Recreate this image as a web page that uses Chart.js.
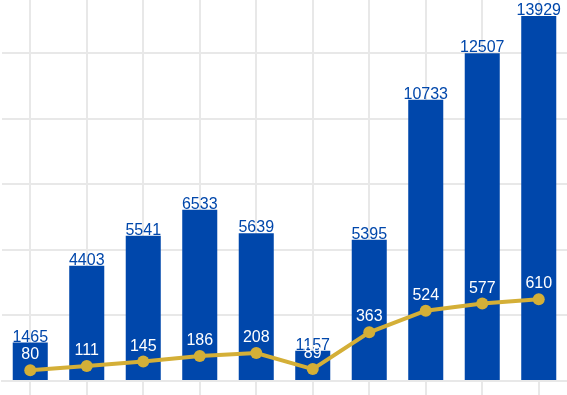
<!DOCTYPE html>
<html>
<head>
<meta charset="utf-8">
<script src="https://cdn.jsdelivr.net/npm/chart.js@4"></script>
<style>
  html, body { margin: 0; padding: 0; background: #fff; }
  #wrap { width: 567px; height: 395px; }
</style>
</head>
<body>
<div id="wrap"><canvas id="myChart"></canvas></div>
<script>
// Datos de la gráfica
const categorias = ['1', '2', '3', '4', '5', '6', '7', '8', '9', '10'];
const barras = [1465, 4403, 5541, 6533, 5639, 1157, 5395, 10733, 12507, 13929];
const linea = [80, 111, 145, 186, 208, 89, 363, 524, 577, 610];
const marcasY = [0, 2500, 5000, 7500, 10000, 12500];

const azul = '#0047AB';
const dorado = '#D4AF37';
const gris = '#e8e8e8';

// Plugin sencillo para pintar las etiquetas de valores
const etiquetas = {
    id: 'etiquetas',
    afterDatasetsDraw(chart) {
        const ctx = chart.ctx;
        ctx.save();
        ctx.textAlign = 'center';
        ctx.textBaseline = 'alphabetic';

        // Etiquetas de las barras (encima de cada barra)
        ctx.font = '16px "Liberation Sans", Arial, sans-serif';
        ctx.fillStyle = azul;
        chart.getDatasetMeta(0).data.forEach((bar, i) => {
            ctx.fillText(barras[i], bar.x, bar.y - 1);
        });

        // Etiquetas de la línea (blancas, arriba del punto)
        ctx.fillStyle = '#fff';
        chart.getDatasetMeta(1).data.forEach((pt, i) => {
            ctx.fillText(linea[i], pt.x, pt.y - 11);
        });
        ctx.restore();
    }
};

const ctx = document.getElementById('myChart').getContext('2d');
const myChart = new Chart(ctx, {
    data: {
        labels: categorias,
        datasets: [{
            type: 'bar',
            data: barras,
            backgroundColor: azul,
            barPercentage: 0.62,
            categoryPercentage: 1,
            yAxisID: 'y',
            order: 2
        }, {
            type: 'line',
            data: linea,
            borderColor: dorado,
            backgroundColor: dorado,
            borderWidth: 4,
            pointRadius: 6,
            pointBackgroundColor: dorado,
            pointBorderWidth: 0,
            tension: 0,
            yAxisID: 'y2',
            order: 1
        }]
    },
    options: {
        responsive: true,
        maintainAspectRatio: false,
        animation: false,
        layout: { autoPadding: false, padding: { left: 2, right: 0, top: 0, bottom: 0 } },
        plugins: {
            legend: { display: false },
            tooltip: { enabled: false }
        },
        scales: {
            x: {
                grid: { offset: false, color: gris, lineWidth: 2, tickLength: 14 },
                border: { color: gris, width: 2 },
                ticks: { display: false }
            },
            y: {
                min: 0,
                max: 14540,
                ticks: { display: false },
                // marcas fijas cada 2500
                afterBuildTicks: axis => {
                    axis.ticks = marcasY.map(v => ({ value: v }));
                },
                grid: { color: gris, lineWidth: 2, drawTicks: false },
                border: { display: false }
            },
            y2: {
                display: false,
                min: 0,
                max: 2840
            }
        }
    },
    plugins: [etiquetas]
});
</script>
</body>
</html>
